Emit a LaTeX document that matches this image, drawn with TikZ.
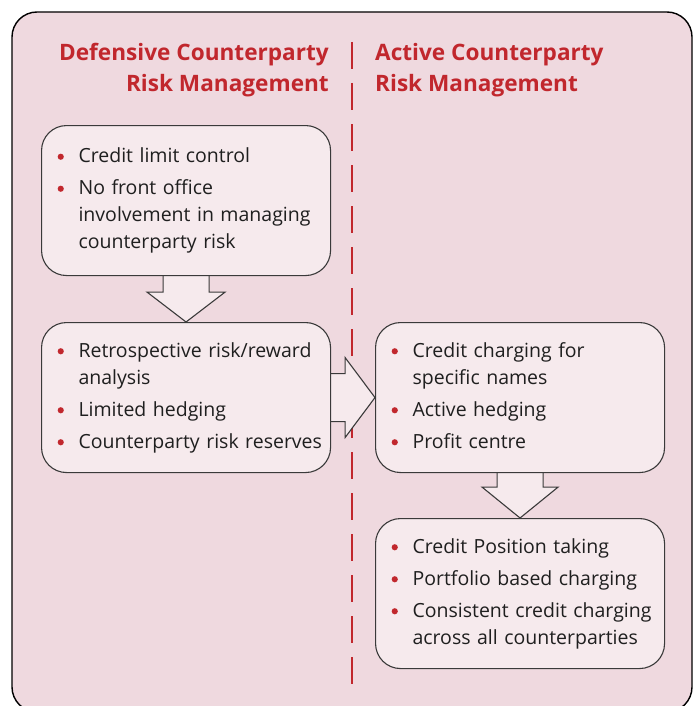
\documentclass[tikz,border=0pt]{standalone}
\usepackage{fontspec}
\setmainfont{Open Sans}
\usetikzlibrary{calc}
\definecolor{panelpink}{HTML}{EFD9DF}
\definecolor{boxpink}{HTML}{F6EAED}
\definecolor{headred}{HTML}{C1272D}
\definecolor{edgegray}{HTML}{3A3A3A}
\newcommand{\bul}{\tikz[baseline=0pt, x=1pt, y=1pt]{\path (0,0) -- (10,0);
  \fill[headred] (3.2,6.2) circle[radius=3.1pt];}}
\pgfdeclarelayer{back}
\pgfdeclarelayer{mid}
\pgfsetlayers{back,mid,main}
\tikzset{
  frame/.style={draw=black, line width=1.4pt, fill=panelpink, rounded corners=25pt},
  listbox/.style={draw=edgegray, line width=1.1pt, fill=boxpink, rounded corners=25pt,
    minimum width=289pt, minimum height=150pt, anchor=north west,
    inner xsep=16pt, inner ysep=0pt, text width=257pt, align=left,
    font=\fontsize{19.5}{27}\selectfont, text=black!88},
  heading/.style={font=\fontsize{22.6}{31}\selectfont\bfseries, text=headred, inner sep=0pt},
  blockarrow/.style={draw=edgegray, line width=1.1pt, fill=boxpink, line join=miter},
  divider/.style={draw=headred, line width=1.8pt, dash pattern=on 27pt off 14pt}
}
\begin{document}
\begin{tikzpicture}[x=1pt, y=-1pt]
\useasboundingbox (0,0) rectangle (695,706);
\clip (0,0) rectangle (695,706);

% outer panel
\begin{pgfonlayer}{back}
  \draw[frame] (12,12) rectangle (692,712);
  \draw[divider] (352,42) -- (352,696);
\end{pgfonlayer}

% headings
\node[heading, anchor=north east, align=right] (hdef) at (329,43)
  {Defensive Counterparty\\Risk Management};
\node[heading, anchor=north west, align=left] (hact) at (375,43)
  {Active Counterparty\\Risk Management};

% list boxes
\node[listbox] (b1) at (41,125) {%
  \begin{tabular}{@{}p{21pt}@{}l@{}}
  \bul & Credit limit control\\[5pt]
  \bul & No front office\\
       & involvement in managing\\
       & counterparty risk
  \end{tabular}};
\node[listbox] (b2) at (41,322) {%
  \begin{tabular}{@{}p{21pt}@{}l@{}}
  \bul & Retrospective risk/reward\\
       & analysis\\[5pt]
  \bul & Limited hedging\\[5pt]
  \bul & Counterparty risk reserves
  \end{tabular}};
\node[listbox] (b3) at (375,322) {%
  \begin{tabular}{@{}p{21pt}@{}l@{}}
  \bul & Credit charging for\\
       & specific names\\[5pt]
  \bul & Active hedging\\[5pt]
  \bul & Profit centre
  \end{tabular}};
\node[listbox] (b4) at (375,518) {%
  \begin{tabular}{@{}p{21pt}@{}l@{}}
  \bul & Credit Position taking\\[5pt]
  \bul & Portfolio based charging\\[5pt]
  \bul & Consistent credit charging\\
       & across all counterparties
  \end{tabular}};

% block arrows between the boxes
\begin{pgfonlayer}{mid}
  \draw[blockarrow] ($(b1.south)+(-23,0)$) -- ($(b1.south)+(-23,16)$)
    -- ($(b1.south)+(-39,16)$) -- (b2.north) -- ($(b1.south)+(39,16)$)
    -- ($(b1.south)+(23,16)$) -- ($(b1.south)+(23,0)$);
  \draw[blockarrow] ($(b2.east)+(0,-24)$) -- ($(b2.east)+(14,-24)$)
    -- ($(b2.east)+(14,-40)$) -- (b3.west) -- ($(b2.east)+(14,40)$)
    -- ($(b2.east)+(14,24)$) -- ($(b2.east)+(0,24)$);
  \draw[blockarrow] ($(b3.south)+(-23,0)$) -- ($(b3.south)+(-23,14)$)
    -- ($(b3.south)+(-38,14)$) -- (b4.north) -- ($(b3.south)+(38,14)$)
    -- ($(b3.south)+(23,14)$) -- ($(b3.south)+(23,0)$);
\end{pgfonlayer}
\end{tikzpicture}
\end{document}
